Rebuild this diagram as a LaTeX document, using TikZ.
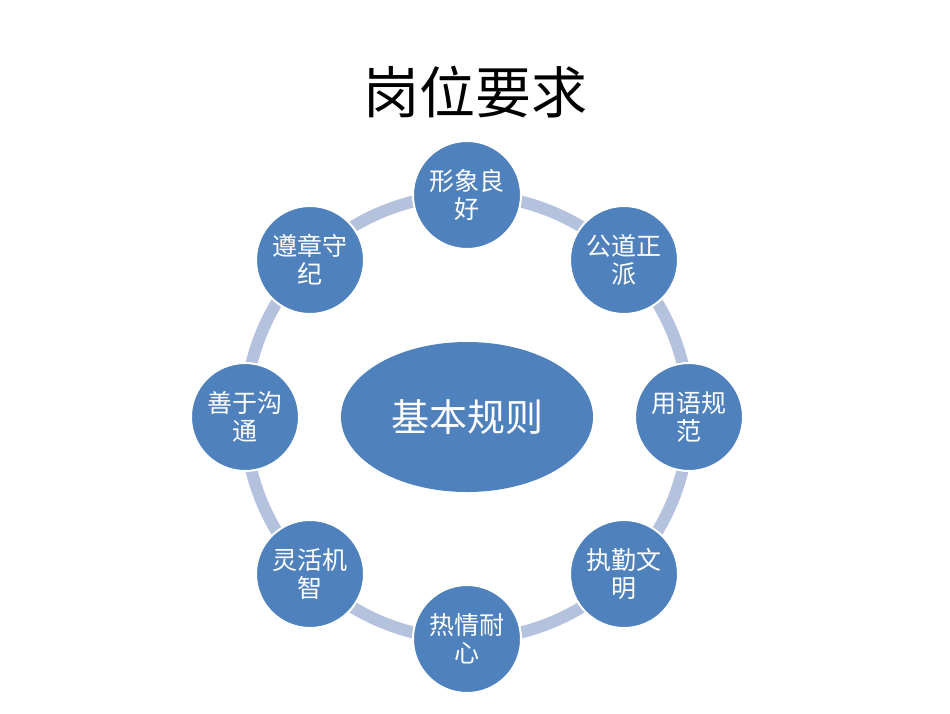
\documentclass[tikz,border=0pt]{standalone}
\usepackage{fontspec}
\usetikzlibrary{shapes.geometric}
\newfontfamily\cjk{Noto Sans CJK SC}
\begin{document}
\begin{tikzpicture}[x=1pt,y=-1pt,
  item/.style={circle,fill=blue1,draw=white,line width=2pt,minimum size=108pt,inner sep=0pt,text=white,font=\cjk\fontsize{25}{28}\selectfont,align=center,text width=90pt},
  ring/.style={draw=ringc,line width=12pt}]
\definecolor{blue1}{HTML}{4F81BD}
\definecolor{ringc}{HTML}{B5C2DD}
\useasboundingbox (0,0) rectangle (950,713);
\node[font=\cjk\fontsize{56}{60}\selectfont] (title) at (475,92) {岗位要求};
\coordinate (c) at (467,417);
\draw[ring] (c) circle (222);
\node[ellipse,fill=blue1,minimum width=252pt,minimum height=150pt,inner sep=0pt,text=white,font=\cjk\fontsize{38}{42}\selectfont] (m) at (c) {基本规则};
\node[item] (n1) at (467,195) {形象良\\好};
\node[item] (n2) at (624,260) {公道正\\派};
\node[item] (n3) at (689,417) {用语规\\范};
\node[item] (n4) at (624,574) {执勤文\\明};
\node[item] (n5) at (467,639) {热情耐\\心};
\node[item] (n6) at (310,574) {灵活机\\智};
\node[item] (n7) at (245,417) {善于沟\\通};
\node[item] (n8) at (310,260) {遵章守\\纪};
\end{tikzpicture}
\end{document}
